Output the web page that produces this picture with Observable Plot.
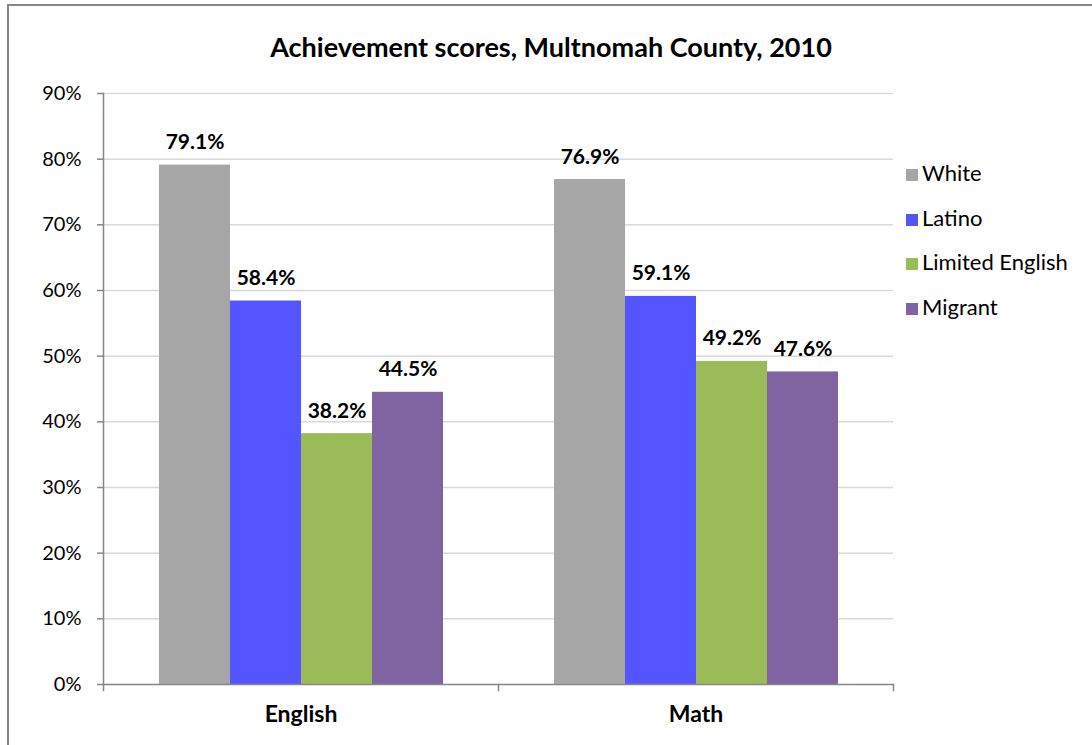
<!DOCTYPE html>
<html>
<head>
<meta charset="utf-8">
<script src="https://cdn.jsdelivr.net/npm/d3@7"></script>
<script src="https://cdn.jsdelivr.net/npm/@observablehq/plot@0.6"></script>
<style>
  html, body { margin: 0; padding: 0; background: #fff; overflow: hidden; }
  #wrap { position: relative; width: 1092px; height: 745px; overflow: hidden; font-family: Lato, "Open Sans", sans-serif; }
  #border { position: absolute; left: 7px; top: 4px; width: 1200px; height: 1000px; border-left: 2px solid #878787; border-top: 2px solid #878787; box-sizing: border-box; }
  #title { position: absolute; left: 0; width: 1102px; top: 30px; text-align: center; font-size: 27px; font-weight: bold; color: #000; }
  #chart { position: absolute; left: 0; top: 0; }
  #chart svg { display: block; }
  #legend { position: absolute; left: 906px; top: 159px; font-size: 22px; color: #000; }
  .item { position: absolute; white-space: nowrap; height: 28px; line-height: 28px; }
  .sw { display: inline-block; width: 12px; height: 12px; margin-right: 4px; vertical-align: 0px; }
</style>
</head>
<body>
<div id="wrap">
  <div id="border"></div>
  <div id="chart"></div>
  <div id="title">Achievement scores, Multnomah County, 2010</div>
  <div id="legend"></div>
</div>
<script>
const subjects = ["English", "Math"];
const groups = ["White", "Latino", "Limited English", "Migrant"];
const englishValues = [79.1, 58.4, 38.2, 44.5];
const mathValues = [76.9, 59.1, 49.2, 47.6];
const groupColors = ["#A6A6A6", "#5555FF", "#9BBB59", "#8064A2"];
const yTicks = [0, 10, 20, 30, 40, 50, 60, 70, 80, 90];

const rows = [];
groups.forEach((g, i) => rows.push({subject: "English", group: g, value: englishValues[i]}));
groups.forEach((g, i) => rows.push({subject: "Math", group: g, value: mathValues[i]}));

const axisColor = "#868686";
const plotH = 745, mTop = 93, mBottom = 61;

const chart = Plot.plot({
  width: 1092,
  height: plotH,
  marginLeft: 102,
  marginRight: 199,
  marginTop: mTop,
  marginBottom: mBottom,
  style: {fontFamily: "Lato, 'Open Sans', sans-serif", background: "transparent", color: "#000"},
  fx: {domain: subjects, paddingInner: 0, paddingOuter: 0, label: null, axis: null},
  x: {domain: groups, paddingInner: 0, paddingOuter: 0.76, axis: null},
  y: {domain: [0, 90], axis: null},
  color: {domain: groups, range: groupColors},
  marks: [
    Plot.gridY(yTicks.filter(d => d > 0), {stroke: "#D9D9D9", strokeOpacity: 1, strokeWidth: 1.5}),
    Plot.barY(rows, {fx: "subject", x: "group", y: "value", fill: "group", inset: 0}),
    Plot.ruleY([0], {stroke: axisColor, strokeWidth: 1.5}),
    Plot.frame({anchor: "left", facetAnchor: "left", stroke: axisColor, strokeWidth: 1.5}),
    Plot.frame({anchor: "left", stroke: axisColor, strokeWidth: 1.5, insetTop: plotH - mTop - mBottom, insetBottom: -6}),
    Plot.frame({anchor: "right", facetAnchor: "right", stroke: axisColor, strokeWidth: 1.5, insetTop: plotH - mTop - mBottom, insetBottom: -6}),
    Plot.axisY({ticks: yTicks, tickFormat: d => d + "%", tickSize: 6, tickPadding: 16, stroke: axisColor, strokeWidth: 1.5, fontSize: 20, label: null, fill: "#000"}),
    Plot.axisFx({anchor: "bottom", tickSize: 0, tickPadding: 21, fontSize: 23, fontWeight: "bold", label: null, fill: "#000"}),
    Plot.text(rows, {fx: "subject", x: "group", y: "value", text: d => d.value.toFixed(1) + "%", lineAnchor: "bottom", dy: -16, fontSize: 21, fontWeight: "bold", fill: "#000"})
  ]
});
document.getElementById("chart").appendChild(chart);

const legend = document.getElementById("legend");
groups.forEach((g, i) => {
  const it = document.createElement("div");
  it.className = "item";
  it.style.top = (i * 44.6) + "px";
  it.innerHTML = `<span class="sw" style="background:${groupColors[i]}"></span>${g}`;
  legend.appendChild(it);
});
</script>
</body>
</html>
